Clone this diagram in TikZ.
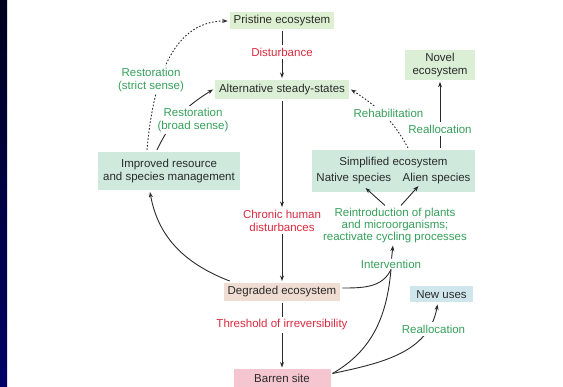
\documentclass[tikz,border=0pt]{standalone}
\usepackage{fontspec}
\setmainfont{Liberation Sans}
\usetikzlibrary{arrows.meta, positioning, calc}
\definecolor{ecoGreen}{HTML}{36A05A}
\definecolor{ecoRed}{HTML}{DA2B40}
\definecolor{ecoInk}{HTML}{2A2A2A}
\definecolor{pristineFill}{HTML}{DDF0D1}
\definecolor{altFill}{HTML}{DAEFD6}
\definecolor{mgmtFill}{HTML}{CFEADD}
\definecolor{degradedFill}{HTML}{EFDDD3}
\definecolor{usesFill}{HTML}{CFE7EC}
\definecolor{barrenFill}{HTML}{F5C6D0}
\definecolor{slideTop}{HTML}{00001E}
\definecolor{slideNavy}{HTML}{000068}

\begin{document}
\begin{tikzpicture}[
    x=1pt, y=-1pt,
    eco/.style={rectangle, text=ecoInk, font=\fontsize{11.5}{13}\selectfont,
                align=center, inner xsep=4pt, inner ysep=3pt, outer sep=2pt},
    cause/.style={text=ecoRed, font=\fontsize{11.5}{13}\selectfont,
                  align=center, fill=white, inner sep=2.5pt},
    action/.style={cause, text=ecoGreen},
    link/.style={line width=0.9pt, draw=ecoInk},
    flow/.style={link, -{Stealth[length=5.5pt,width=4pt]}},
    dotflow/.style={flow, dash pattern=on 1.6pt off 1.8pt},
  ]
    \useasboundingbox (0,0) rectangle (563,387);
    \shade[top color=slideTop, bottom color=slideNavy] (0,0) rectangle (7,387);

    % main column
    \node[eco, fill=pristineFill, minimum height=17pt] (pristine) at (282,21) {Pristine ecosystem};
    \node[cause] (dist) at (282,52) {Disturbance};
    \node[eco, fill=altFill, minimum height=19pt] (alt) at (282,89.5) {Alternative steady-states};
    \node[cause] (chronic) at (282,220.5) {Chronic human\\disturbances};
    \node[eco, fill=degradedFill, minimum height=18pt] (degraded) at (282,292) {Degraded ecosystem};
    \node[cause] (threshold) at (282,325) {Threshold of irreversibility};
    \node[eco, fill=barrenFill, minimum width=97pt, minimum height=18pt] (barren) at (282,378.5) {Barren site};

    % side boxes
    \node[eco, fill=altFill, minimum width=70pt, minimum height=28pt] (novel) at (440,65) {Novel\\ecosystem};
    \node[eco, fill=mgmtFill, minimum width=142pt, minimum height=38pt] (improved) at (169,171)
      {Improved resource\\and species management};
    \node[eco, fill=mgmtFill, minimum width=163pt, minimum height=42pt] (simplified) at (393.5,171)
      {Simplified ecosystem\\[3pt]Native species\quad Alien species};
    \node[eco, fill=usesFill, minimum width=63pt, minimum height=16pt] (newuses) at (441.5,294.5) {New uses};
    \node[action, font=\fontsize{11.5}{12}\selectfont] (reintro) at (395,225.5)
      {Reintroduction of plants\\and microorganisms;\\reactivate cycling processes};
    \node[action, inner sep=1pt] (interv) at (391,264) {Intervention};

    \draw[link] (pristine) -- (dist);
    \draw[flow] (dist) -- (alt);
    \draw[flow] (alt) -- (chronic);
    \draw[flow] (chronic) -- (degraded);
    \draw[link] (degraded) -- (threshold);
    \draw[flow] (threshold) -- (barren);

    \draw[flow] ([xshift=8pt]degraded.north west) to[out=159, in=-80] ([xshift=-19pt]improved.south);
    \draw[dotflow] ([xshift=-22pt]improved.north) to[out=85, in=180] (pristine.west);
    \draw[flow] ([xshift=-12pt]improved.north) to[out=65, in=212] (alt.west);
    \draw[dotflow] ([xshift=14.5pt]simplified.north) to[out=118, in=-33] (alt.east);
    \draw[flow] (simplified.north -| novel.south) -- (novel.south);

    \draw[flow] ([xshift=-10pt]reintro.north) -- ([xshift=-28pt,yshift=6pt]simplified.south);
    \draw[flow] ([xshift=6pt]reintro.north) -- ([xshift=25pt,yshift=8pt]simplified.south);
    \draw[link] ([yshift=4pt]degraded.east) to[out=0, in=-115] (interv.south);
    \draw[link] ([yshift=5pt]barren.east) to[out=30, in=-95] (interv.south);
    \draw[flow] (interv) -- (reintro);
    \draw[flow] ([yshift=5pt]barren.east) to[out=12, in=-100] ([xshift=-4pt]newuses.south);

    % labels over the curves
    \node[action] (strict) at (151,80) {Restoration\\(strict sense)};
    \node[action] (broad) at (193,120) {Restoration\\(broad sense)};
    \node[action] (rehab) at (388.5,113) {Rehabilitation};
    \node[action] (realloc) at (440,129) {Reallocation};
    \node[action] (reallocuse) at (433.5,329) {Reallocation};
  \end{tikzpicture}
\end{document}
